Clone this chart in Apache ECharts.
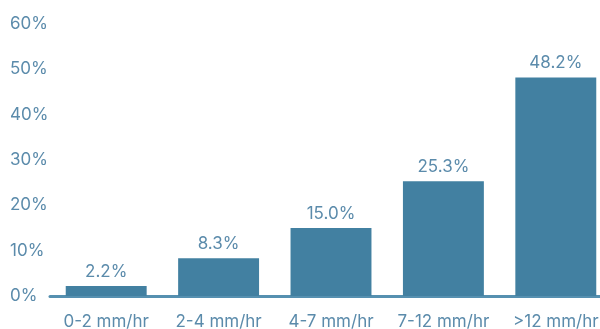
<!DOCTYPE html>
<html>
<head>
<meta charset="utf-8">
<script src="https://cdn.jsdelivr.net/npm/echarts@6/dist/echarts.min.js"></script>
<style>
html,body{margin:0;padding:0;background:#fff;}
#chart{width:600px;height:329px;}
</style>
</head>
<body>
<div id="chart"></div>
<script>
// Share of rainfall by intensity band
const categories = ['0-2 mm/hr', '2-4 mm/hr', '4-7 mm/hr', '7-12 mm/hr', '>12 mm/hr'];
const shares = [2.2, 8.3, 15.0, 25.3, 48.2];
const yTicks = [0, 10, 20, 30, 40, 50, 60];

const textColor = '#5b8bab';
const barColor = '#4280a1';
const fontFamily = 'Inter, "DejaVu Sans", sans-serif';
const fontWeight = 400;
const fontSize = 17;

const chart = echarts.init(document.getElementById('chart'));
chart.setOption({
  animation: false,
  // plot area runs slightly past the right edge of the canvas
  grid: { left: 50, width: 562, top: 24, bottom: 33, containLabel: false, outerBoundsMode: 'none' },
  xAxis: {
    type: 'category',
    data: categories,
    axisLine: { show: true, lineStyle: { color: '#5690b0', width: 3 } },
    axisTick: { show: false },
    axisLabel: { color: textColor, fontSize: fontSize, fontWeight: fontWeight, fontFamily: fontFamily, margin: 17, interval: 0 }
  },
  yAxis: {
    type: 'value',
    min: yTicks[0],
    max: yTicks[yTicks.length - 1],
    interval: 10,
    splitLine: { show: false },
    axisLine: { show: false },
    axisTick: { show: false },
    axisLabel: {
      color: textColor, fontSize: fontSize, fontWeight: fontWeight, fontFamily: fontFamily,
      align: 'left', margin: 40,
      formatter: v => v + '%'
    }
  },
  series: [{
    type: 'bar',
    data: shares,
    barWidth: '72%',
    itemStyle: { color: barColor },
    label: {
      show: true, position: 'top', distance: 6,
      color: textColor, fontSize: fontSize, fontWeight: fontWeight, fontFamily: fontFamily,
      formatter: p => p.value.toFixed(1) + '%'
    }
  }]
});
</script>
</body>
</html>
